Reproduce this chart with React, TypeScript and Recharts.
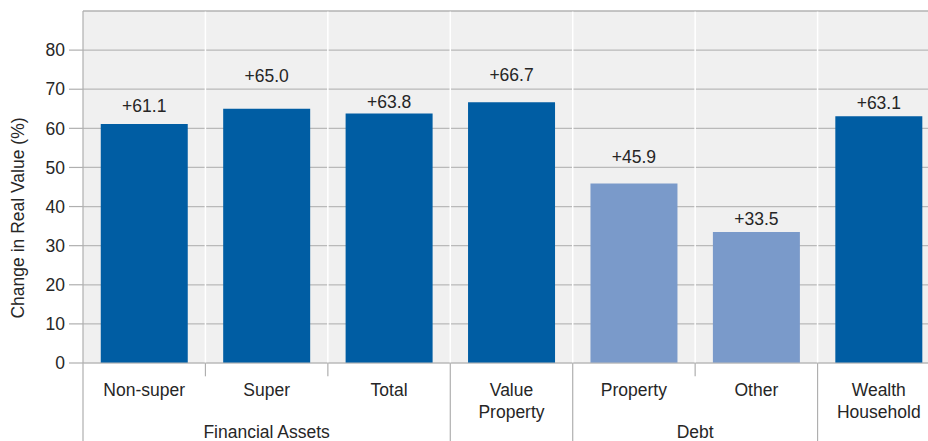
import React from "react";
import {
  BarChart,
  Bar,
  XAxis,
  YAxis,
  CartesianGrid,
  ReferenceLine,
  LabelList,
  Cell,
} from "recharts";

const categories = [
  "Non-super",
  "Super",
  "Total",
  "Value\nProperty",
  "Property",
  "Other",
  "Wealth\nHousehold",
];
const changePct = [61.1, 65.0, 63.8, 66.7, 45.9, 33.5, 63.1];
const groups = [
  "Financial Assets",
  "Financial Assets",
  "Financial Assets",
  "",
  "Debt",
  "Debt",
  "",
];
const yTicks = [0, 10, 20, 30, 40, 50, 60, 70, 80];
const yTitle = "Change in Real Value (%)";

// label lift above bar top (px)
const labelLift = [11.7, 26.5, 5.2, 21, 20.3, 7, 7.2];

const DARK = "#005DA3";
const LIGHT = "#7A9ACA";
const BG = "#F0F0F0";
const GRID = "#B9B9B9";
const SEP = "#AFAFAF";
const TEXT = "#262626";
const FONT = "'Liberation Sans', Arial, Helvetica, sans-serif";
const FS = 17.5;

const data = categories.map((c, i) => ({ name: c, value: changePct[i], group: groups[i] }));

const n = categories.length;
// boundary at the start of category i (i = 0..n-1)
const isShort = (i: number) => i > 0 && groups[i - 1] !== "" && groups[i - 1] === groups[i];

const groupSpans: { cat: string; pos: "start" | "middle"; label: string }[] = [];
groups.forEach((g, i) => {
  if (!g) return;
  if (i > 0 && groups[i - 1] === g) return;
  let j = i;
  while (j + 1 < n && groups[j + 1] === g) j++;
  const len = j - i + 1;
  if (len % 2 === 1) {
    groupSpans.push({ cat: categories[i + (len - 1) / 2], pos: "middle", label: g });
  } else {
    groupSpans.push({ cat: categories[i + len / 2], pos: "start", label: g });
  }
});

const CatTick = (props: any) => {
  const { x, y, payload } = props;
  const lines = String(payload.value).split("\n");
  return (
    <g>
      {lines.map((l, k) => (
        <text
          key={k}
          x={x}
          y={y + 33 + k * 22}
          textAnchor="middle"
          fill={TEXT}
          fontSize={FS}
          fontFamily={FONT}
        >
          {l}
        </text>
      ))}
    </g>
  );
};

const renderValueLabel = (props: any) => {
  const { x, y, width, value, index } = props;
  return (
    <text
      x={Number(x) + Number(width) / 2}
      y={Number(y) - labelLift[index]}
      textAnchor="middle"
      fill={TEXT}
      fontSize={FS}
      fontFamily={FONT}
    >
      {"+" + Number(value).toFixed(1)}
    </text>
  );
};

const YTitle = (props: any) => {
  const vb = props.viewBox || { x: 0, y: 0, width: 0, height: 0 };
  const cx = vb.x + 18;
  const cy = vb.y + vb.height / 2 + 31;
  return (
    <text
      x={cx}
      y={cy}
      transform={`rotate(-90 ${cx} ${cy})`}
      textAnchor="middle"
      dominantBaseline="central"
      fill={TEXT}
      fontSize={FS}
      fontFamily={FONT}
    >
      {yTitle}
    </text>
  );
};

const makeGroupLabel = (text: string) => (props: any) => {
  const vb = props.viewBox || { x: 0, y: 0, width: 0, height: 0 };
  return (
    <text
      x={vb.x + vb.width / 2}
      y={vb.y + 74.5}
      textAnchor="middle"
      fill={TEXT}
      fontSize={FS}
      fontFamily={FONT}
    >
      {text}
    </text>
  );
};

export default function App() {
  return (
    <div
      style={{
        position: "fixed",
        left: 0,
        top: 0,
        width: 928,
        height: 441,
        overflow: "hidden",
        background: "#fff",
      }}
    >
      <BarChart
        width={941}
        height={441}
        data={data}
        margin={{ top: 11, right: 1, bottom: 0, left: 0 }}
        barCategoryGap="14.5%"
      >
        <CartesianGrid vertical={false} horizontal={false} fill={BG} fillOpacity={1} />
        {categories.slice(1).map((c) => (
          <ReferenceLine
            key={"v" + c}
            x={c}
            position="start"
            stroke="#FFFFFF"
            strokeWidth={1.5}
          />
        ))}
        <CartesianGrid vertical={false} horizontal={true} stroke={GRID} strokeWidth={1.2} />
        <XAxis
          dataKey="name"
          type="category"
          height={78}
          interval={0}
          tickLine={false}
          tickSize={0}
          tickMargin={0}
          axisLine={{ stroke: GRID, strokeWidth: 1.2 }}
          tick={<CatTick />}
        />
        <YAxis
          type="number"
          domain={[0, 90]}
          ticks={yTicks}
          interval={0}
          width={83}
          tickSize={14}
          tickMargin={4}
          tickLine={{ stroke: SEP, strokeWidth: 1.2 }}
          axisLine={{ stroke: SEP, strokeWidth: 1.2 }}
          tick={{ fill: TEXT, fontSize: FS, fontFamily: FONT }}
          label={<YTitle />}
        />
        <ReferenceLine y={90} stroke={SEP} strokeWidth={1.2} ifOverflow="visible" />
        {categories.map((c, i) => (
          <ReferenceLine
            key={"sep" + c}
            position="start"
            segment={[
              { x: c, y: 0 },
              { x: c, y: isShort(i) ? -3.4 : -25 },
            ]}
            stroke={SEP}
            strokeWidth={1.2}
            ifOverflow="visible"
          />
        ))}
        {groupSpans.map((g) => (
          <ReferenceLine
            key={"grp" + g.label}
            position={g.pos}
            segment={[
              { x: g.cat, y: 0 },
              { x: g.cat, y: -20 },
            ]}
            stroke="none"
            ifOverflow="visible"
            label={makeGroupLabel(g.label)}
          />
        ))}
        <Bar dataKey="value" isAnimationActive={false}>
          {data.map((d, i) => (
            <Cell key={i} fill={d.group === "Debt" ? LIGHT : DARK} />
          ))}
          <LabelList dataKey="value" content={renderValueLabel} />
        </Bar>
      </BarChart>
    </div>
  );
}
